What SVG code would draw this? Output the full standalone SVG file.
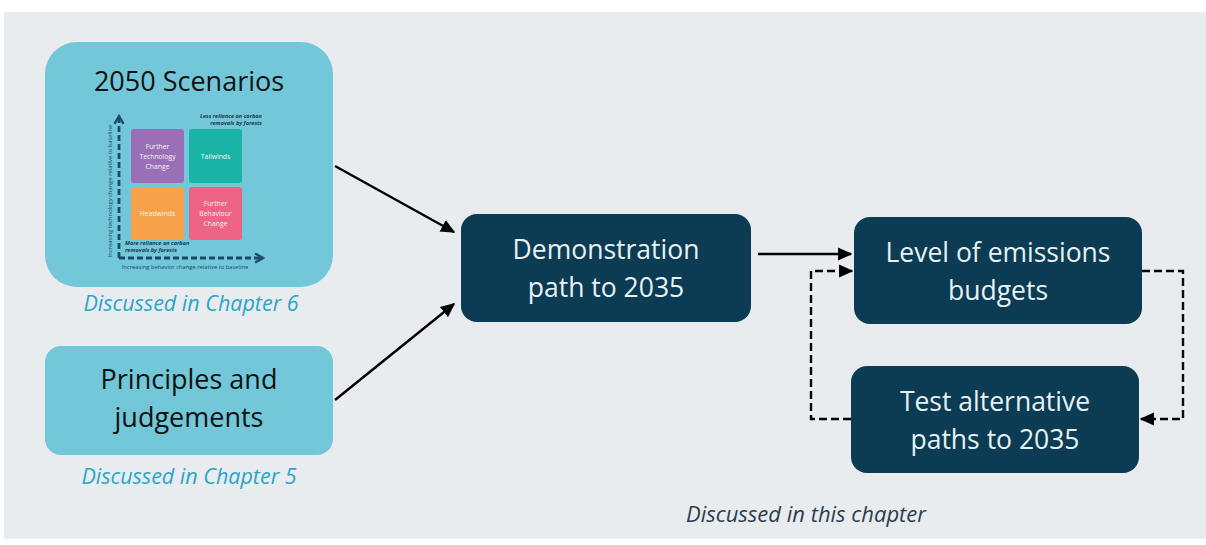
<svg xmlns="http://www.w3.org/2000/svg" width="1206" height="545" viewBox="0 0 1206 545">
<style>
.lb{fill:#72C7D9}
.dk{fill:#0B3C53}
.t1{font-family:"Open Sans","Liberation Sans",sans-serif;font-size:27px;fill:#111;text-anchor:middle}
.t2{font-family:"Open Sans","Liberation Sans",sans-serif;font-size:26.5px;fill:#E8F2F4;text-anchor:middle}
.cap{font-family:"Open Sans","Liberation Sans",sans-serif;font-size:21.5px;font-style:italic;fill:#2AA6C6;text-anchor:middle}
.sq{font-family:"Open Sans","Liberation Sans",sans-serif;font-size:6.8px;fill:#F4F4F4;text-anchor:middle}
.small{font-family:"Open Sans","Liberation Sans",sans-serif;font-size:5.6px;font-style:italic;font-weight:bold;fill:#1C3A4E}
.ax{font-family:"Open Sans","Liberation Sans",sans-serif;font-size:5.8px;fill:#1C4A62}
.solid{stroke:#000;stroke-width:2.4;fill:none}
.dash{stroke:#000;stroke-width:2.4;fill:none;stroke-dasharray:8 4}
.axis{stroke:#1B4A66;stroke-width:2.8;fill:none;stroke-dasharray:6 3}
</style>
<defs>
<marker id="ah" viewBox="0 0 10 10" refX="9" refY="5" markerWidth="6" markerHeight="6" orient="auto" markerUnits="strokeWidth">
<path d="M0,0.5 L10,5 L0,9.5 z" fill="#000"/>
</marker>
<marker id="axh" viewBox="0 0 10 10" refX="8" refY="5" markerWidth="4" markerHeight="4" orient="auto" markerUnits="strokeWidth">
<path d="M1,1 L8,5 L1,9" fill="none" stroke="#1B4A66" stroke-width="2"/>
</marker>
</defs>
<rect x="0" y="0" width="1206" height="545" fill="#fff"/>
<rect x="4" y="12" width="1202" height="527" fill="#E9ECEF"/>

<g id="scenarios">
<rect class="lb" x="45" y="42" width="288" height="245" rx="32"/>
<text class="t1" x="189" y="91">2050 Scenarios</text>
<path class="axis" d="M119,258 V116" marker-end="url(#axh)"/>
<path class="axis" d="M119,258 H263" marker-end="url(#axh)"/>
<rect x="131" y="129" width="53" height="54" rx="3" fill="#9B6FB7"/>
<rect x="189" y="129" width="53" height="54" rx="3" fill="#19B4A6"/>
<rect x="131" y="187" width="53" height="53" rx="3" fill="#F7A24A"/>
<rect x="189" y="187" width="53" height="53" rx="3" fill="#EC6386"/>
<text class="sq" x="157.5" y="149">Further</text>
<text class="sq" x="157.5" y="159">Technology</text>
<text class="sq" x="157.5" y="169">Change</text>
<text class="sq" x="215.5" y="159">Tailwinds</text>
<text class="sq" x="157.5" y="216">Headwinds</text>
<text class="sq" x="215.5" y="206">Further</text>
<text class="sq" x="215.5" y="216">Behaviour</text>
<text class="sq" x="215.5" y="226">Change</text>
<text class="small" x="262" y="118" text-anchor="end">Less reliance on carbon</text>
<text class="small" x="262" y="125" text-anchor="end">removals by forests</text>
<text class="small" x="125" y="245">More reliance on carbon</text>
<text class="small" x="125" y="252">removals by forests</text>
<text class="ax" x="185" y="269" text-anchor="middle">Increasing behavior change relative to baseline</text>
<text class="ax" x="0" y="0" text-anchor="middle" transform="translate(112,191) rotate(-90)">Increasing technology change relative to baseline</text>
</g>
<g id="cap6"><text class="cap" x="191" y="311">Discussed in Chapter 6</text></g>

<g id="principles">
<rect class="lb" x="45" y="346" width="288" height="109" rx="16"/>
<text class="t1" x="189" y="389">Principles and</text>
<text class="t1" x="189" y="427">judgements</text>
</g>
<g id="cap5"><text class="cap" x="189" y="484">Discussed in Chapter 5</text></g>

<g id="demo">
<rect class="dk" x="461" y="214" width="290" height="108" rx="16"/>
<text class="t2" x="606" y="259">Demonstration</text>
<text class="t2" x="606" y="297">path to 2035</text>
</g>

<g id="level">
<rect class="dk" x="854" y="217" width="288" height="107" rx="16"/>
<text class="t2" x="998" y="262">Level of emissions</text>
<text class="t2" x="998" y="300">budgets</text>
</g>

<g id="test">
<rect class="dk" x="851" y="366" width="288" height="107" rx="16"/>
<text class="t2" x="995" y="411">Test alternative</text>
<text class="t2" x="995" y="449">paths to 2035</text>
</g>

<g id="capthis"><text class="cap" x="806" y="522" style="fill:#2D3D4E;font-size:22px">Discussed in this chapter</text></g>

<g id="connectors">
<path class="solid" d="M335,166 L454,232" marker-end="url(#ah)"/>
<path class="solid" d="M335,400 L454,304" marker-end="url(#ah)"/>
<path class="solid" d="M758,254 L851,254" marker-end="url(#ah)"/>
<path class="dash" d="M851,419 H811 V271 H852" marker-end="url(#ah)"/>
<path class="dash" d="M1142,271 H1183 V419 H1141" marker-end="url(#ah)"/>
</g>
</svg>
